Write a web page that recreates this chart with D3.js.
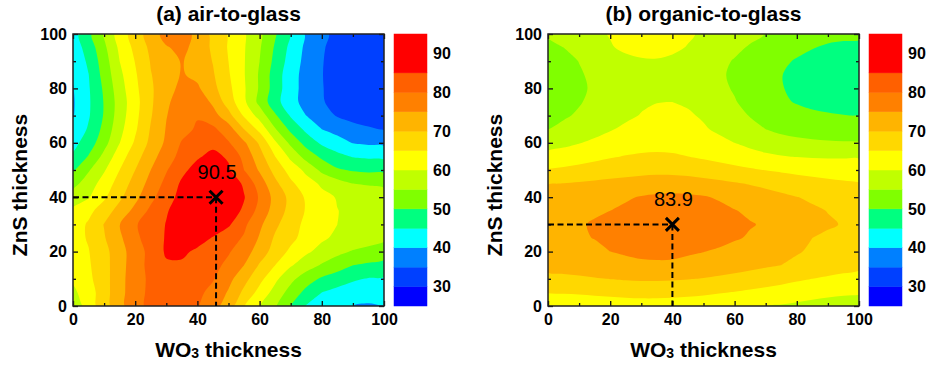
<!DOCTYPE html>
<html>
<head>
<meta charset="utf-8">
<script src="https://cdn.jsdelivr.net/npm/d3@7"></script>
<style>
  body { margin: 0; background: #fff; }
  text { font-family: "Liberation Sans", Arial, sans-serif; }
</style>
</head>
<body>
<svg id="chart" width="928" height="366"></svg>
<script>
// grid axes (nm); grid rows run from ZnS = 100 (top row) down to 0
var wo3Thickness = [0, 5, 10, 15, 20, 25, 30, 35, 40, 45, 50, 55, 60, 65, 70, 75, 80, 85, 90, 95, 100];
var znsThickness = [100, 95, 90, 85, 80, 75, 70, 65, 60, 55, 50, 45, 40, 35, 30, 25, 20, 15, 10, 5, 0];

// transmittance (%), air-to-glass
var airToGlass = [
  [43.0, 48.6, 55.6, 62.2, 67.4, 72.3, 77.0, 77.5, 73.5, 68.7, 64.5, 60.6, 56.0, 50.5, 44.7, 39.4, 36.3, 33.5, 32.0, 31.6, 32.0],
  [42.3, 47.0, 53.9, 61.0, 66.3, 71.1, 74.6, 76.3, 73.3, 69.1, 64.6, 60.4, 55.5, 49.4, 43.7, 38.9, 35.6, 33.0, 31.7, 31.3, 31.5],
  [41.5, 45.8, 52.6, 60.0, 65.2, 70.3, 73.0, 75.3, 73.1, 69.8, 65.0, 60.3, 55.0, 48.6, 42.9, 38.5, 35.3, 32.8, 31.5, 31.2, 31.3],
  [40.5, 44.9, 51.8, 58.8, 64.4, 69.8, 72.5, 75.4, 73.8, 70.5, 65.5, 60.3, 54.4, 47.6, 42.0, 38.2, 35.2, 32.6, 31.2, 31.0, 31.2],
  [39.8, 44.5, 50.8, 57.9, 63.8, 69.3, 73.1, 76.3, 75.8, 71.5, 66.3, 60.6, 54.4, 47.6, 41.9, 38.2, 35.3, 32.8, 31.5, 31.0, 31.3],
  [39.5, 44.3, 50.3, 57.2, 63.2, 69.2, 74.1, 77.5, 78.7, 74.0, 67.7, 61.0, 53.5, 46.8, 41.8, 38.2, 35.5, 33.0, 31.7, 31.4, 31.8],
  [39.7, 44.5, 50.4, 57.5, 63.6, 69.6, 74.8, 77.8, 79.6, 77.0, 71.7, 64.4, 58.0, 50.7, 44.5, 40.0, 37.2, 34.6, 33.0, 32.6, 33.0],
  [41.0, 45.6, 51.4, 58.5, 64.3, 70.4, 75.3, 78.3, 80.7, 81.0, 77.3, 70.0, 63.6, 55.4, 48.8, 43.8, 40.0, 38.5, 37.0, 35.6, 34.7],
  [43.5, 47.3, 53.2, 59.9, 65.7, 71.2, 75.9, 80.4, 83.3, 83.6, 80.4, 75.8, 69.2, 60.8, 53.8, 48.1, 44.1, 41.7, 39.8, 39.2, 38.9],
  [45.7, 50.3, 56.4, 62.7, 68.0, 73.0, 77.8, 81.5, 84.4, 86.3, 84.3, 78.5, 72.1, 65.0, 58.8, 53.0, 49.0, 46.5, 44.7, 44.2, 43.7],
  [49.3, 54.5, 59.5, 65.0, 70.0, 75.0, 79.6, 83.8, 86.8, 88.0, 85.8, 80.0, 74.4, 68.3, 63.0, 58.8, 53.8, 50.6, 49.5, 49.0, 48.8],
  [53.3, 57.5, 62.1, 67.1, 71.9, 76.7, 81.4, 85.8, 88.5, 89.5, 88.5, 84.2, 77.6, 71.2, 66.0, 62.1, 59.2, 57.1, 55.0, 54.6, 54.3],
  [57.5, 59.6, 64.2, 69.0, 73.7, 78.6, 83.1, 86.5, 88.9, 90.3, 89.0, 85.3, 79.4, 73.3, 68.6, 64.3, 61.4, 59.7, 58.3, 57.3, 56.5],
  [61.0, 63.7, 67.4, 72.0, 76.4, 81.1, 84.6, 87.3, 89.0, 89.4, 87.5, 84.2, 78.2, 72.9, 68.3, 64.6, 62.4, 60.1, 59.0, 58.2, 57.5],
  [62.5, 65.6, 70.2, 74.9, 79.5, 82.5, 85.2, 87.5, 89.0, 88.0, 85.7, 81.0, 76.0, 71.0, 67.1, 63.8, 62.1, 60.0, 59.1, 58.3, 57.6],
  [63.3, 65.4, 69.6, 74.1, 78.8, 82.5, 85.4, 87.5, 87.0, 84.7, 82.1, 79.5, 74.5, 69.3, 66.3, 63.1, 60.7, 59.1, 58.2, 57.1, 56.0],
  [63.0, 64.8, 68.5, 72.9, 77.8, 81.4, 85.7, 86.0, 84.1, 82.3, 80.5, 77.3, 72.7, 67.9, 64.0, 60.8, 58.5, 56.3, 54.6, 53.6, 52.5],
  [62.0, 64.4, 68.2, 73.0, 77.8, 81.5, 84.3, 84.2, 83.0, 81.5, 78.8, 75.0, 69.5, 65.0, 60.5, 57.4, 54.5, 52.3, 50.0, 49.2, 48.4],
  [60.8, 63.9, 68.0, 73.3, 77.9, 81.0, 83.5, 83.5, 82.0, 80.4, 76.5, 71.7, 66.5, 61.1, 56.4, 52.3, 49.3, 47.5, 45.7, 44.7, 44.5],
  [59.0, 62.5, 67.9, 73.4, 77.9, 81.2, 83.7, 83.5, 81.2, 78.5, 74.5, 68.9, 63.3, 58.2, 53.0, 48.6, 45.0, 43.5, 42.5, 42.0, 42.0],
  [56.0, 62.6, 67.6, 73.6, 78.0, 81.5, 83.7, 83.2, 80.4, 76.8, 72.7, 65.2, 60.1, 55.5, 49.8, 44.7, 43.1, 41.6, 40.0, 39.5, 39.8]
];

// transmittance (%), organic-to-glass
var organicToGlass = [
  [55.8, 57.2, 58.6, 59.2, 60.2, 62.2, 62.6, 62.6, 62.0, 60.5, 59.4, 58.6, 57.3, 56.0, 54.9, 53.8, 52.8, 52.0, 51.4, 51.1, 51.0],
  [53.5, 55.0, 56.6, 58.2, 59.7, 60.7, 61.2, 61.2, 60.7, 59.8, 58.5, 57.2, 55.9, 54.6, 53.4, 52.3, 51.2, 50.2, 49.4, 49.0, 48.8],
  [52.3, 53.6, 55.1, 56.7, 58.1, 59.1, 59.6, 59.7, 59.3, 58.5, 57.3, 56.0, 54.7, 53.3, 52.0, 50.8, 49.6, 48.6, 48.0, 47.7, 47.6],
  [52.0, 53.1, 54.5, 56.0, 57.3, 58.2, 58.7, 58.8, 58.5, 57.8, 56.8, 55.6, 54.3, 52.8, 51.4, 50.1, 49.1, 48.3, 47.7, 47.4, 47.3],
  [52.0, 53.0, 54.3, 55.6, 56.8, 57.8, 58.5, 58.8, 58.7, 58.2, 57.3, 56.0, 54.6, 52.9, 51.4, 50.2, 49.2, 48.4, 47.8, 47.5, 47.5],
  [52.5, 53.5, 54.7, 56.0, 57.3, 58.5, 59.4, 59.9, 60.0, 59.5, 58.5, 57.0, 55.3, 53.5, 52.0, 50.7, 49.7, 49.0, 48.6, 48.4, 48.3],
  [53.5, 54.5, 55.5, 56.8, 58.0, 59.2, 60.2, 60.9, 61.0, 60.5, 59.5, 58.0, 56.4, 54.8, 53.2, 52.2, 51.5, 50.8, 50.4, 50.1, 49.9],
  [55.0, 56.0, 57.2, 58.5, 59.7, 60.8, 61.5, 62.0, 62.0, 61.5, 60.5, 59.2, 57.8, 56.3, 55.0, 53.8, 53.0, 52.5, 52.2, 52.0, 52.0],
  [58.0, 58.8, 59.8, 60.8, 61.8, 62.6, 63.2, 63.5, 63.5, 63.0, 62.2, 61.2, 60.0, 58.8, 57.8, 57.0, 56.4, 55.9, 55.6, 55.4, 55.3],
  [61.5, 62.2, 63.0, 63.8, 64.6, 65.2, 65.6, 65.7, 65.5, 65.0, 64.3, 63.5, 62.6, 61.7, 60.8, 60.2, 59.8, 59.6, 59.5, 59.5, 59.5],
  [65.3, 65.8, 66.4, 67.0, 67.6, 68.1, 68.5, 68.7, 68.6, 68.2, 67.6, 67.0, 66.3, 65.6, 64.9, 64.3, 63.7, 63.2, 62.9, 62.7, 62.5],
  [69.8, 70.1, 70.5, 70.9, 71.3, 71.7, 72.1, 72.4, 72.5, 72.2, 71.7, 71.1, 70.4, 69.7, 69.0, 68.2, 67.5, 66.8, 66.2, 65.7, 65.3],
  [72.0, 72.3, 72.7, 73.1, 73.6, 74.5, 75.3, 75.8, 76.0, 75.8, 75.4, 74.5, 73.3, 72.5, 71.7, 70.9, 70.1, 69.4, 68.7, 68.0, 67.5],
  [73.5, 73.8, 74.1, 74.6, 75.0, 75.8, 76.8, 77.5, 78.0, 77.8, 77.2, 76.3, 75.2, 74.2, 73.2, 72.4, 71.5, 70.6, 69.9, 69.4, 69.0],
  [74.0, 74.4, 74.7, 75.3, 76.7, 77.7, 78.4, 78.9, 79.0, 78.9, 78.5, 77.6, 76.4, 75.3, 74.5, 73.7, 72.8, 71.6, 70.4, 69.8, 69.5],
  [73.8, 74.0, 74.6, 75.1, 76.0, 77.0, 77.8, 78.2, 78.3, 78.0, 77.4, 76.4, 75.5, 74.5, 73.3, 72.3, 71.2, 70.0, 69.4, 69.3, 69.2],
  [73.0, 73.3, 73.6, 74.2, 75.0, 75.6, 76.2, 76.5, 76.4, 75.6, 75.1, 74.4, 73.3, 72.6, 71.9, 71.1, 70.3, 69.5, 68.8, 68.3, 68.0],
  [71.5, 71.8, 72.2, 72.7, 73.2, 73.6, 74.0, 74.1, 74.0, 73.6, 73.1, 72.5, 71.9, 71.3, 70.6, 70.0, 69.2, 68.4, 67.6, 66.8, 66.0],
  [68.8, 69.0, 69.3, 69.7, 70.1, 70.4, 70.6, 70.6, 70.5, 70.2, 69.8, 69.3, 68.7, 68.0, 67.3, 66.5, 65.7, 65.0, 64.3, 63.8, 63.5],
  [65.2, 65.4, 65.6, 65.9, 66.2, 66.5, 66.7, 66.7, 66.5, 66.2, 65.8, 65.3, 64.8, 64.2, 63.6, 63.0, 62.3, 61.7, 61.1, 60.7, 60.5],
  [61.5, 61.7, 61.9, 62.2, 62.4, 62.6, 62.8, 62.8, 62.7, 62.5, 62.2, 61.8, 61.3, 60.7, 60.1, 59.6, 59.1, 58.6, 58.2, 57.8, 57.5]
];

// contour levels and their fill colours (top band 85-95 is red)
var levels = [25, 30, 35, 40, 45, 50, 55, 60, 65, 70, 75, 80, 85, 95];
var levelColors = ["#0000ff", "#0040ff", "#0080ff", "#00ffff", "#00ff80", "#80ff00",
                   "#c0ff00", "#ffff00", "#ffd800", "#ffb400", "#ff8000", "#ff6000", "#ff0000"];
var colorbarTicks = [30, 40, 50, 60, 70, 80, 90];
var majorTicks = [0, 20, 40, 60, 80, 100];
var minorTicks = [10, 30, 50, 70, 90];

var panels = [
  {title: "(a) air-to-glass", grid: airToGlass, left: 73, best: {wo3: 46, zns: 40, label: "90.5"}},
  {title: "(b) organic-to-glass", grid: organicToGlass, left: 548, best: {wo3: 40, zns: 30, label: "83.9"}}
];

var plotTop = 34, plotBottom = 306, plotW = 311;
var svg = d3.select("#chart");
var font = "'Liberation Sans', Arial, sans-serif";

panels.forEach(function(p, k) {
  var x = d3.scaleLinear().domain([0, 100]).range([p.left, p.left + plotW]);
  var y = d3.scaleLinear().domain([0, 100]).range([plotBottom, plotTop]);

  var nx = wo3Thickness.length, ny = znsThickness.length;
  var flat = [];
  p.grid.forEach(function(row) { row.forEach(function(v) { flat.push(v); }); });

  var contours = d3.contours()
    .size([nx, ny])
    .thresholds(levels.slice(0, -1))(flat);

  // grid sample i covers contour cell [i, i+1], centred at i + 0.5
  var gx = d3.scaleLinear().domain([0.5, nx - 0.5])
    .range([x(wo3Thickness[0]), x(wo3Thickness[nx - 1])]);
  var gy = d3.scaleLinear().domain([0.5, ny - 0.5])
    .range([y(znsThickness[0]), y(znsThickness[ny - 1])]);

  var ringLine = d3.line()
    .x(function(d) { return gx(d[0]); })
    .y(function(d) { return gy(d[1]); })
    .curve(d3.curveCatmullRomClosed.alpha(0.5));

  function ringPath(ring) {
    var pts = ring;
    var a = ring[0], b = ring[ring.length - 1];
    if (a[0] === b[0] && a[1] === b[1]) pts = ring.slice(0, -1);
    return ringLine(pts);
  }

  svg.append("clipPath").attr("id", "clip" + k)
    .append("rect")
    .attr("x", x(0)).attr("y", y(100))
    .attr("width", x(100) - x(0)).attr("height", y(0) - y(100));

  var map = svg.append("g").attr("clip-path", "url(#clip" + k + ")");
  map.append("rect")
    .attr("x", x(0)).attr("y", y(100))
    .attr("width", x(100) - x(0)).attr("height", y(0) - y(100))
    .attr("fill", levelColors[0]);

  map.selectAll("path.band")
    .data(contours).enter()
    .append("path")
    .attr("class", "band")
    .attr("fill", function(c) { return levelColors[levels.indexOf(c.value)]; })
    .attr("d", function(c) {
      return c.coordinates.map(function(poly) {
        return poly.map(ringPath).join("");
      }).join("");
    });

  // axes, ticks inside on all four sides
  function styleAxis(g) {
    g.select(".domain").remove();
    g.selectAll("line").attr("stroke", "#111").attr("stroke-width", 1.3);
    g.selectAll("text").attr("font-family", font).attr("font-size", 16)
      .attr("font-weight", "bold").attr("fill", "#000");
  }
  svg.append("g").attr("transform", "translate(0," + plotBottom + ")")
    .call(d3.axisBottom(x).tickValues(majorTicks).tickSize(-5).tickPadding(8))
    .call(styleAxis);
  svg.append("g").attr("transform", "translate(0," + plotBottom + ")")
    .call(d3.axisBottom(x).tickValues(minorTicks).tickSize(-3).tickFormat(""))
    .call(styleAxis);
  svg.append("g").attr("transform", "translate(0," + plotTop + ")")
    .call(d3.axisTop(x).tickValues(majorTicks).tickSize(-5).tickFormat(""))
    .call(styleAxis);
  svg.append("g").attr("transform", "translate(0," + plotTop + ")")
    .call(d3.axisTop(x).tickValues(minorTicks).tickSize(-3).tickFormat(""))
    .call(styleAxis);
  svg.append("g").attr("transform", "translate(" + x(0) + ",0)")
    .call(d3.axisLeft(y).tickValues(majorTicks).tickSize(-5).tickPadding(6))
    .call(styleAxis);
  svg.append("g").attr("transform", "translate(" + x(0) + ",0)")
    .call(d3.axisLeft(y).tickValues(minorTicks).tickSize(-3).tickFormat(""))
    .call(styleAxis);
  svg.append("g").attr("transform", "translate(" + x(100) + ",0)")
    .call(d3.axisRight(y).tickValues(majorTicks).tickSize(-5).tickFormat(""))
    .call(styleAxis);
  svg.append("g").attr("transform", "translate(" + x(100) + ",0)")
    .call(d3.axisRight(y).tickValues(minorTicks).tickSize(-3).tickFormat(""))
    .call(styleAxis);

  svg.append("rect")
    .attr("x", x(0)).attr("y", y(100))
    .attr("width", x(100) - x(0)).attr("height", y(0) - y(100))
    .attr("fill", "none").attr("stroke", "#222").attr("stroke-width", 1.5);

  // optimum marker with dashed guides
  var bx = x(p.best.wo3), by = y(p.best.zns);
  svg.append("line")
    .attr("x1", x(0)).attr("x2", bx).attr("y1", by).attr("y2", by)
    .attr("stroke", "#000").attr("stroke-width", 2).attr("stroke-dasharray", "6,3.5");
  svg.append("line")
    .attr("x1", bx).attr("x2", bx).attr("y1", by).attr("y2", y(0))
    .attr("stroke", "#000").attr("stroke-width", 2).attr("stroke-dasharray", "6,3.5");
  var s = 6.5;
  svg.append("path")
    .attr("d", "M" + (bx - s) + "," + (by - s) + "L" + (bx + s) + "," + (by + s) +
               "M" + (bx - s) + "," + (by + s) + "L" + (bx + s) + "," + (by - s))
    .attr("stroke", "#000").attr("stroke-width", 3);
  svg.append("text")
    .attr("x", bx + 1).attr("y", by - 18)
    .attr("text-anchor", "middle")
    .attr("font-size", 20)
    .text(p.best.label);

  // colour bar
  var cb = d3.scaleLinear().domain([levels[0], levels[levels.length - 1]]).range([plotBottom, plotTop]);
  var cbx = x(100) + 10;
  svg.selectAll(null)
    .data(levelColors).enter()
    .append("rect")
    .attr("x", cbx).attr("width", 33)
    .attr("y", function(c, i) { return cb(levels[i + 1]); })
    .attr("height", function(c, i) { return cb(levels[i]) - cb(levels[i + 1]); })
    .attr("fill", function(c) { return c; })
    .attr("stroke", function(c) { return c; })
    .attr("stroke-width", 0.5);
  svg.selectAll(null)
    .data(colorbarTicks).enter()
    .append("text")
    .attr("x", cbx + 39)
    .attr("y", function(d) { return cb(d); })
    .attr("dy", "0.36em")
    .attr("font-size", 16).attr("font-weight", "bold")
    .text(function(d) { return d; });

  // titles
  svg.append("text")
    .attr("x", (x(0) + x(100)) / 2).attr("y", 21)
    .attr("text-anchor", "middle")
    .attr("font-size", 21).attr("font-weight", "bold")
    .text(p.title);

  var xt = svg.append("text")
    .attr("x", (x(0) + x(100)) / 2).attr("y", 357)
    .attr("text-anchor", "middle")
    .attr("font-size", 21).attr("font-weight", "bold");
  xt.append("tspan").text("WO");
  xt.append("tspan").attr("font-size", 14).attr("dy", 1).text("3");
  xt.append("tspan").attr("dy", -1).text(" thickness");

  svg.append("text")
    .attr("transform", "translate(" + (x(0) - 46) + ",185) rotate(-90)")
    .attr("text-anchor", "middle")
    .attr("font-size", 21).attr("font-weight", "bold")
    .text("ZnS thickness");
});
</script>
</body>
</html>
